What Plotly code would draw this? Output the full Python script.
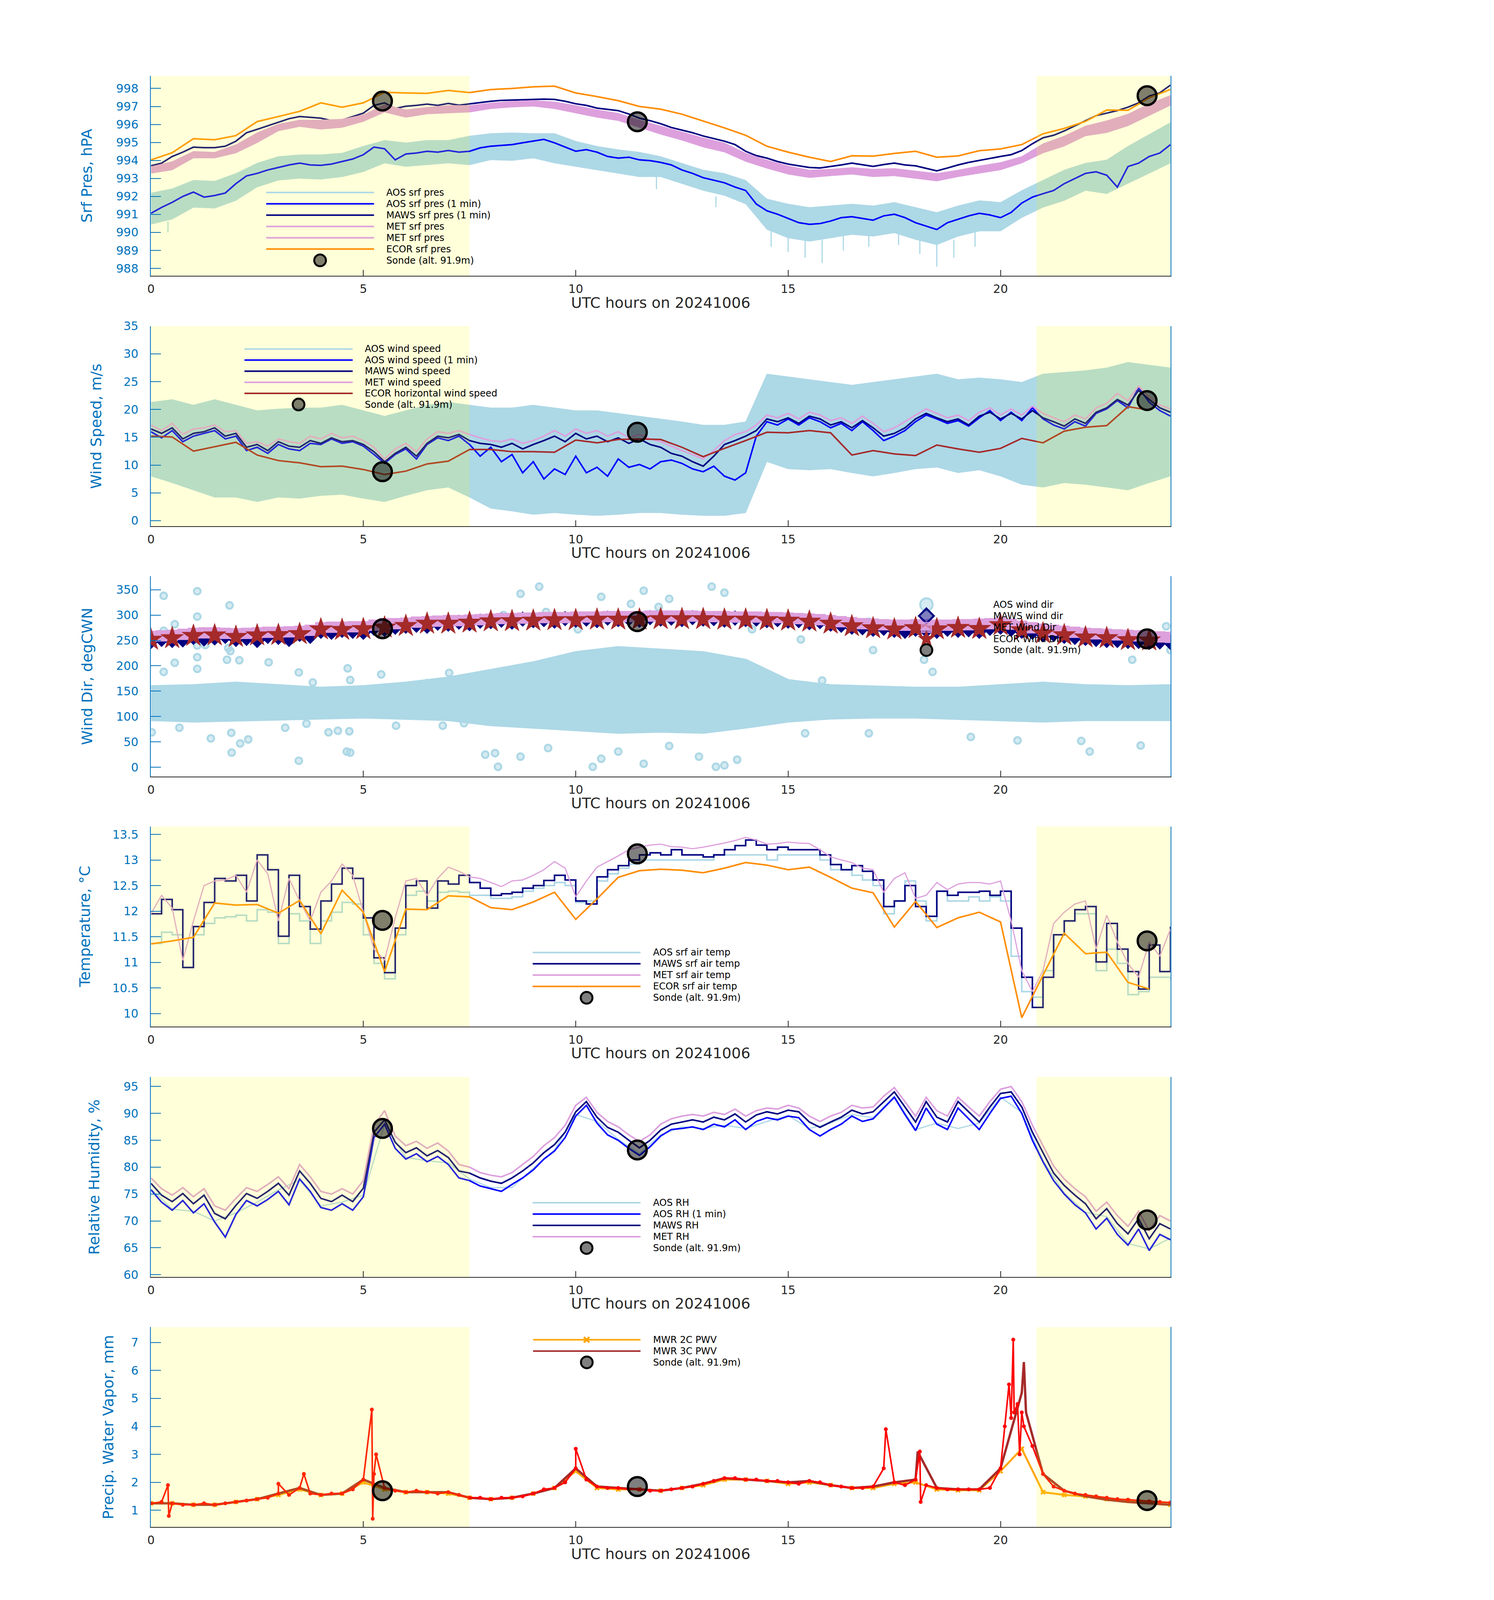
import math
import plotly.graph_objects as go

# ---------------- reference geometry (pixels of the 3825 x 7125 reference) ----------------
RW, RH = 3825, 7125
PL_X0, PL_X1 = 371, 2999
PANEL_TOP0 = 296
PANEL_H = 901
PERIOD = 1127
FONT = "DejaVu Sans"
AXBLUE = "#0072BD"
DARK = "#262626"
TICK_FS, LEG_FS, TITLE_FS = 30, 24, 38

def fx(px):
    return px / RW

def fy(py):
    return 1 - py / RH

# ---------------- time grids ----------------
t_q = [i * 0.25 for i in range(97)]
t_h = [i * 0.5 for i in range(49)]
t_h48 = t_h[:48]
t_hr = [float(i) for i in range(25)]

night_spans = [(0.0, 7.5), (20.85, 24.0)]
sonde_t = [5.45, 11.45, 23.45]

# ---------------- panel 1: pressure ----------------
aos_p_hi = [992.19, 992.43, 992.90, 992.85, 993.28, 993.85, 994.22, 994.32, 994.32, 994.41,
            994.79, 995.12, 994.98, 995.12, 995.12, 995.36, 995.50, 995.54, 995.50, 995.50,
            995.07, 994.79, 994.60, 994.46, 994.22, 993.85, 993.47, 993.28, 992.90, 991.86,
            991.58, 991.39, 991.48, 991.58, 991.48, 991.67, 991.39, 991.11, 991.48, 991.77,
            991.67, 992.33, 992.90, 993.47, 993.85, 994.03, 994.79, 995.45, 996.11]
aos_p_lo = [990.45, 990.73, 991.39, 991.34, 991.77, 992.52, 992.90, 993.00, 992.95, 993.09,
            993.37, 993.85, 993.66, 993.75, 993.85, 993.75, 994.03, 993.99, 994.13, 993.85,
            993.66, 993.47, 993.28, 993.09, 993.09, 992.71, 992.33, 992.05, 991.58, 990.16,
            989.69, 989.50, 989.69, 989.88, 989.78, 989.97, 989.60, 989.31, 989.78, 990.07,
            990.07, 990.82, 991.39, 991.77, 992.33, 992.15, 992.71, 993.28, 993.85]
aos_p_spk_t = [0.4, 11.9, 13.3, 14.6, 15.0, 15.4, 15.8, 16.3, 16.9, 17.6, 18.1, 18.5, 18.9, 19.4]
aos_p_spk_top = [990.6, 993.2, 992.0, 990.2, 989.8, 989.6, 989.6, 989.8, 989.8, 990.0, 989.6, 989.4, 989.6, 990.0]
aos_p_spk_bot = [990.0, 992.4, 991.4, 989.2, 988.9, 988.6, 988.3, 989.0, 989.2, 989.3, 988.8, 988.1, 988.6, 989.2]
aos_p_1min = [991.06, 991.39, 991.67, 992.00, 992.24, 991.96, 992.05, 992.19, 992.71, 993.14,
              993.28, 993.47, 993.61, 993.75, 993.85, 993.75, 993.73, 993.80, 993.94, 994.08,
              994.32, 994.74, 994.65, 994.03, 994.36, 994.41, 994.51, 994.46, 994.55, 994.46,
              994.51, 994.70, 994.79, 994.84, 994.88, 994.98, 995.07, 995.17, 994.98, 994.74,
              994.51, 994.60, 994.46, 994.22, 994.13, 994.18, 994.03, 993.99, 993.89, 993.75,
              993.47, 993.28, 993.04, 992.90, 992.76, 992.52, 992.33, 991.58, 991.20, 991.01,
              990.78, 990.54, 990.45, 990.49, 990.63, 990.82, 990.87, 990.78, 990.68, 990.92,
              991.01, 990.82, 990.54, 990.35, 990.16, 990.54, 990.73, 990.92, 991.06, 990.97,
              990.82, 991.11, 991.63, 991.96, 992.15, 992.33, 992.71, 992.99, 993.28, 993.37,
              993.18, 992.52, 993.66, 993.85, 994.22, 994.41, 994.88]
maws_p = [993.70, 993.85, 994.22, 994.46, 994.74, 994.71, 994.71, 994.79, 995.07, 995.54,
          995.73, 995.92, 996.11, 996.32, 996.44, 996.39, 996.35, 996.21, 996.25, 996.44,
          996.63, 997.06, 997.20, 996.89, 997.01, 997.06, 997.13, 997.06, 997.17, 997.07,
          997.15, 997.23, 997.29, 997.34, 997.36, 997.39, 997.41, 997.41, 997.39, 997.29,
          997.15, 997.06, 996.91, 996.85, 996.77, 996.58, 996.35, 996.21, 996.04, 995.83,
          995.69, 995.54, 995.36, 995.21, 995.07, 994.88, 994.51, 994.27, 994.13, 993.94,
          993.80, 993.70, 993.61, 993.58, 993.66, 993.75, 993.85, 993.75, 993.67, 993.77,
          993.85, 993.75, 993.70, 993.56, 993.42, 993.58, 993.75, 993.89, 993.99, 994.11,
          994.22, 994.32, 994.55, 994.93, 995.26, 995.40, 995.64, 995.92, 996.21, 996.49,
          996.63, 996.77, 996.96, 997.20, 997.58, 997.76, 998.19]
met_p_hi = [993.66, 993.94, 994.51, 994.46, 994.88, 995.54, 996.02, 996.25, 996.25, 996.30,
            996.54, 997.10, 996.82, 996.96, 997.06, 997.06, 997.20, 997.29, 997.34, 997.26,
            997.06, 996.82, 996.63, 996.25, 995.92, 995.59, 995.26, 994.98, 994.41, 994.03,
            993.70, 993.47, 993.52, 993.61, 993.52, 993.56, 993.42, 993.28, 993.47, 993.70,
            993.89, 994.22, 994.93, 995.36, 995.92, 996.21, 996.58, 997.15, 997.62]
met_p_lo = [993.28, 993.47, 994.13, 994.13, 994.41, 994.98, 995.64, 995.88, 995.73, 995.83,
            996.16, 996.68, 996.39, 996.58, 996.63, 996.68, 996.87, 996.96, 997.01, 996.87,
            996.63, 996.39, 996.21, 995.83, 995.45, 995.12, 994.74, 994.46, 993.94, 993.56,
            993.23, 993.04, 993.14, 993.23, 993.09, 993.14, 993.00, 992.85, 993.09, 993.28,
            993.47, 993.85, 994.41, 994.79, 995.36, 995.54, 995.92, 996.49, 997.06]
ecor_p = [994.03, 994.43, 995.21, 995.15, 995.38, 996.16, 996.44, 996.73, 997.20, 996.96,
          997.20, 997.79, 997.75, 997.73, 997.89, 997.77, 997.94, 998.00, 998.09, 998.13,
          997.75, 997.55, 997.32, 997.00, 996.85, 996.57, 996.19, 995.81, 995.40, 994.79,
          994.46, 994.18, 993.94, 994.26, 994.24, 994.39, 994.51, 994.18, 994.25, 994.54,
          994.64, 994.88, 995.48, 995.78, 996.17, 996.80, 996.79, 997.48, 997.95]
sonde_p = [997.3, 996.15, 997.6]

# ---------------- panel 2: wind speed ----------------
aos_ws_hi = [21.3, 21.8, 20.8, 21.8, 20.8, 19.8, 20.1, 20.3, 20.3, 20.8,
             19.8, 18.8, 19.8, 20.8, 21.3, 20.8, 20.3, 20.3, 20.8, 20.3,
             19.8, 19.8, 19.3, 18.8, 18.3, 17.8, 17.2, 17.2, 17.8, 26.4,
             25.9, 25.4, 24.9, 24.4, 24.9, 25.4, 25.9, 26.4, 25.4, 25.7,
             25.4, 24.9, 26.4, 26.7, 27.0, 27.5, 28.5, 28.0, 27.5]
aos_ws_lo = [8.0, 6.8, 5.5, 4.2, 4.2, 3.4, 4.2, 4.0, 4.5, 4.7,
             4.0, 3.4, 4.5, 5.5, 6.0, 4.2, 2.2, 1.7, 1.1, 1.4,
             1.1, 0.9, 1.1, 1.4, 1.4, 1.1, 0.9, 0.9, 1.4, 10.6,
             9.3, 9.1, 9.3, 8.6, 8.0, 8.6, 9.3, 9.6, 8.6, 9.1,
             8.0, 6.5, 6.0, 6.8, 6.5, 6.0, 5.5, 6.8, 8.0]
aos_ws_1min = [16.0, 14.9, 16.2, 14.2, 15.2, 15.7, 16.2, 14.7, 15.2, 12.6,
               13.2, 12.1, 13.7, 12.9, 12.6, 13.9, 13.7, 14.7, 13.9, 14.2,
               13.4, 11.9, 10.3, 11.9, 12.9, 11.1, 13.7, 14.9, 14.4, 15.2,
               13.7, 11.6, 13.2, 10.6, 11.9, 8.6, 10.6, 7.5, 9.3, 8.3,
               11.6, 8.6, 9.6, 8.0, 11.1, 9.6, 10.1, 9.3, 10.6, 10.9,
               10.3, 9.3, 8.8, 9.8, 8.0, 7.3, 8.6, 15.2, 17.8, 17.2,
               18.3, 17.2, 18.5, 17.8, 16.7, 17.5, 16.2, 17.8, 16.2, 14.4,
               15.2, 16.2, 17.8, 19.0, 18.3, 17.5, 18.0, 17.0, 18.5, 19.8,
               18.0, 19.5, 18.0, 20.3, 18.3, 17.2, 16.5, 17.8, 17.0, 19.3,
               20.1, 21.6, 20.3, 23.9, 21.3, 19.8, 18.8]
maws_ws = [16.5, 15.7, 16.7, 14.7, 15.7, 16.0, 16.7, 15.2, 15.7, 13.2,
           13.7, 12.6, 14.2, 13.4, 13.2, 14.4, 13.9, 14.9, 14.2, 14.4,
           13.7, 12.4, 10.6, 12.1, 13.2, 11.6, 13.9, 15.2, 14.9, 15.5,
           14.4, 13.9, 13.7, 13.2, 13.9, 12.9, 13.7, 14.4, 15.2, 14.2,
           15.7, 14.7, 15.2, 14.2, 14.9, 13.9, 14.7, 13.7, 13.2, 12.1,
           11.6, 10.6, 9.8, 11.6, 13.7, 14.4, 15.2, 16.2, 18.3, 17.8,
           18.5, 17.5, 18.8, 18.3, 17.2, 17.8, 16.7, 18.0, 16.7, 15.2,
           15.7, 16.7, 18.3, 19.3, 18.5, 17.8, 18.3, 17.2, 18.8, 19.5,
           18.3, 19.3, 18.3, 19.8, 18.5, 17.8, 17.0, 18.3, 17.5, 19.5,
           20.3, 21.8, 20.8, 23.4, 21.8, 20.3, 19.5]
met_ws = [17.2, 16.2, 17.5, 15.5, 16.5, 16.7, 17.2, 16.0, 16.2, 13.9,
          14.2, 13.4, 14.7, 14.2, 13.9, 15.2, 14.7, 15.7, 14.9, 15.2,
          14.4, 13.2, 11.1, 12.9, 13.9, 12.4, 14.7, 16.0, 15.7, 16.2,
          15.5, 14.9, 14.4, 14.2, 14.7, 13.9, 14.4, 15.2, 16.2, 15.2,
          16.5, 15.7, 16.2, 15.2, 16.0, 14.9, 15.5, 14.7, 14.2, 13.4,
          12.6, 11.9, 11.1, 12.6, 14.4, 15.5, 16.0, 17.2, 19.0, 18.5,
          19.3, 18.3, 19.5, 19.0, 18.0, 18.5, 17.5, 18.8, 17.5, 16.0,
          16.7, 17.8, 19.0, 20.1, 19.3, 18.5, 19.0, 18.0, 19.5, 20.3,
          19.0, 20.1, 19.0, 20.6, 19.3, 18.5, 17.8, 19.0, 18.3, 20.3,
          21.1, 22.9, 21.6, 24.2, 22.3, 20.8, 20.1]
ecor_ws = [15.2, 15.05, 12.5, 13.3, 14.1, 11.8, 10.8, 10.4, 9.7, 9.8,
           9.2, 8.3, 8.9, 10.2, 10.7, 12.8, 12.8, 12.4, 12.4, 12.3,
           14.5, 14.0, 14.6, 14.7, 14.6, 13.2, 11.5, 13.0, 14.4, 15.9,
           15.8, 16.2, 15.8, 11.8, 12.6, 12.0, 11.7, 13.6, 12.9, 12.3,
           13.0, 14.8, 14.0, 16.1, 16.8, 17.1, 20.5, 19.9]
sonde_ws = [8.8, 15.9, 21.6]

# ---------------- panel 3: wind direction ----------------
aos_wd_hi = [158, 160, 165, 160, 155, 158, 165, 175, 190, 205, 225, 235, 230,
             225, 210, 170, 160, 158, 155, 155, 160, 165, 160, 158, 160]
aos_wd_lo = [95, 92, 95, 96, 98, 100, 98, 95, 85, 80, 75, 70, 72,
             70, 80, 92, 98, 100, 100, 98, 95, 92, 95, 95, 95]
aos_wd_out_t = [0.30, 1.09, 1.85, 1.09, 0.56, 0.30, 1.09, 1.28, 1.82, 1.87,
                1.09, 1.79, 0.56, 2.77, 2.08, 1.09, 0.30, 3.48, 4.63, 5.42,
                7.02, 3.81, 4.69, 6.50, 0.02, 1.41, 1.89, 2.10, 2.29, 1.90,
                3.48, 4.18, 4.40, 4.67, 4.61, 4.69, 5.77, 6.87, 7.37, 0.67,
                3.16, 3.66, 7.87, 8.17, 8.70, 8.70, 9.14, 8.30, 9.30, 10.05,
                10.60, 11.20, 11.30, 11.60, 11.95, 12.20, 13.20, 13.50, 13.70, 14.15,
                15.30, 16.90, 17.00, 10.40, 10.60, 11.00, 11.60, 12.20, 12.90, 13.30,
                13.50, 13.80, 8.10, 9.35, 19.30, 20.40, 21.90, 22.10, 23.30, 23.10,
                16.90, 15.40, 15.80, 18.20, 18.40, 23.90, 24.00]
aos_wd_out_v = [338, 347, 319, 297, 282, 269, 240, 241, 235, 229,
                217, 212, 206, 207, 211, 194, 188, 187, 195, 183,
                186, 167, 172, 166, 69, 57, 68, 47, 55, 29,
                13, 69, 72, 71, 31, 29, 82, 82, 87, 78,
                78, 86, 25, 1, 21, 342, 356, 300, 306, 272,
                336, 292, 322, 348, 316, 332, 356, 344, 296, 272,
                252, 287, 231, 1, 17, 31, 7, 42, 21, 1,
                4, 15, 28, 38, 60, 53, 52, 31, 43, 212,
                67, 67, 171, 212, 188, 278, 231]
maws_wd = [248, 252, 250, 251, 256, 253, 255, 258, 252,
           254, 250, 258, 256, 252, 262, 258, 268,
           266, 270, 268, 266, 274, 272, 276, 278,
           280, 278, 284, 282, 286, 283, 288, 287,
           290, 286, 292, 289, 291, 288, 293, 290,
           292, 289, 294, 291, 293, 290, 295, 292,
           294, 291, 295, 292, 293, 290, 294, 291,
           292, 289, 291, 288, 289, 285, 287, 282,
           280, 276, 275, 272, 274, 270, 268, 272,
           270, 268, 272, 270, 271, 268, 274, 276,
           272, 268, 266, 262, 262, 258, 256, 254,
           252, 250, 250, 248, 248, 246, 247, 246]
met_wd = [258, 259, 260, 262, 264, 265, 265, 264, 263,
          264, 265, 266, 266, 267, 268, 270, 275,
          276, 276, 277, 277, 280, 283, 283, 284,
          286, 287, 288, 289, 289, 290, 291, 292,
          293, 293, 294, 294, 295, 295, 295, 296,
          296, 296, 297, 297, 297, 297, 298, 298,
          298, 298, 298, 297, 297, 297, 296, 296,
          296, 295, 295, 294, 293, 292, 291, 289,
          287, 285, 283, 282, 281, 280, 280, 281,
          281, 280, 280, 281, 281, 282, 283, 284,
          282, 278, 275, 272, 270, 268, 266, 264,
          263, 262, 261, 260, 259, 258, 257, 256]
ecor_wd = [251.5, 254.5, 259, 260, 257, 260, 260.7, 262.5, 271.7, 270.8,
           272.3, 275.4, 278.5, 283, 283, 285, 287.7, 288, 289, 290,
           290, 291, 291, 291, 292, 292, 292, 291, 291, 290,
           289, 287, 283, 278, 274, 271.6, 274.3, 272, 274.7, 272.6,
           280, 270, 263.8, 260.3, 256, 254.6, 250.7, 250]
sonde_wd = [273, 287, 253]

# ---------------- panel 4: temperature ----------------
aos_T = [11.37, 11.59, 11.54, 10.90, 11.54, 11.76, 11.87, 11.89, 11.92, 11.81,
         12.03, 11.98, 11.37, 11.95, 11.81, 11.37, 11.81, 11.98, 12.17, 12.14,
         11.54, 10.98, 10.68, 11.54, 12.31, 12.39, 12.20, 12.37, 12.39, 12.37,
         12.31, 12.31, 12.25, 12.25, 12.28, 12.39, 12.45, 12.50, 12.56, 12.50,
         12.17, 12.20, 12.59, 12.73, 12.84, 12.92, 13.00, 13.00, 13.00, 13.00,
         13.00, 13.00, 13.00, 13.10, 13.10, 13.10, 13.10, 13.10, 13.00, 13.10,
         13.10, 13.10, 13.10, 13.00, 12.81, 12.81, 12.70, 12.61, 12.50, 11.95,
         12.20, 12.59, 12.20, 11.81, 12.39, 12.20, 12.20, 12.28, 12.20, 12.28,
         12.20, 11.12, 10.43, 10.32, 10.84, 11.54, 11.81, 11.95, 11.95, 10.84,
         11.26, 10.98, 10.37, 10.43, 10.71, 10.71, 10.65]
maws_T = [11.95, 12.23, 12.03, 10.90, 11.70, 12.17, 12.64, 12.59, 12.70, 12.20,
          13.10, 12.81, 11.51, 12.70, 12.09, 11.65, 12.20, 12.53, 12.84, 12.64,
          11.87, 11.09, 10.80, 11.67, 12.50, 12.59, 12.06, 12.59, 12.53, 12.70,
          12.56, 12.45, 12.31, 12.34, 12.37, 12.45, 12.50, 12.60, 12.70, 12.61,
          12.20, 12.14, 12.67, 12.81, 12.89, 13.00, 13.10, 13.14, 13.10, 13.20,
          13.10, 13.10, 13.06, 13.10, 13.20, 13.28, 13.39, 13.29, 13.20, 13.25,
          13.20, 13.20, 13.20, 13.10, 12.91, 12.81, 12.89, 12.78, 12.61, 12.09,
          12.20, 12.50, 12.09, 11.90, 12.39, 12.31, 12.37, 12.37, 12.39, 12.31,
          12.39, 11.67, 10.71, 10.12, 10.71, 11.54, 11.81, 12.03, 12.09, 11.01,
          11.76, 11.26, 10.82, 10.48, 11.34, 10.82, 11.70]
met_T = [11.95, 12.31, 12.06, 11.04, 11.81, 12.50, 12.59, 12.61, 12.70, 12.37,
         13.00, 12.73, 11.81, 12.64, 12.20, 11.81, 12.37, 12.59, 12.92, 12.70,
         11.98, 11.26, 11.04, 11.87, 12.59, 12.64, 12.31, 12.64, 12.86, 12.78,
         12.67, 12.64, 12.56, 12.48, 12.59, 12.61, 12.70, 12.81, 12.97, 12.84,
         12.28, 12.59, 12.86, 12.97, 13.08, 13.20, 13.25, 13.29, 13.31, 13.26,
         13.25, 13.22, 13.25, 13.29, 13.33, 13.38, 13.44, 13.39, 13.31, 13.32,
         13.35, 13.33, 13.32, 13.20, 13.06, 13.00, 12.95, 12.84, 12.81, 12.37,
         12.64, 12.75, 12.25, 12.31, 12.56, 12.42, 12.53, 12.56, 12.56, 12.53,
         12.59, 11.81, 10.84, 10.43, 10.84, 11.76, 11.98, 12.14, 12.20, 11.26,
         11.92, 11.40, 10.98, 10.71, 11.40, 11.12, 11.65]
ecor_T = [11.36, 11.42, 11.49, 12.16, 12.12, 12.13, 11.96, 12.21, 11.56, 12.41,
          11.98, 10.82, 12.04, 12.03, 12.30, 12.28, 12.07, 12.03, 12.18, 12.37,
          11.84, 12.24, 12.66, 12.79, 12.82, 12.80, 12.75, 12.84, 12.95, 12.90,
          12.81, 12.86, 12.66, 12.45, 12.36, 11.69, 12.19, 11.68, 11.87, 11.98,
          11.79, 9.92, 10.75, 11.57, 11.17, 11.20, 10.61, 10.48]
sonde_T = [11.82, 13.12, 11.42]

# ---------------- panel 5: relative humidity ----------------
aos_rh = [76.0, 72.2, 71.8, 70.0, 71.5, 73.5, 75.8, 77.6, 72.8, 73.5,
          74.8, 88.0, 81.8, 81.2, 80.8, 77.8, 76.2, 76.2, 79.8, 83.2,
          89.8, 88.5, 85.2, 82.5, 86.0, 87.5, 87.2, 87.8, 87.2, 88.5,
          89.6, 87.2, 88.2, 89.8, 89.2, 93.2, 87.0, 88.2, 87.2, 88.2,
          93.0, 90.2, 81.2, 75.2, 71.6, 70.8, 65.8, 64.8, 66.8]
aos_rh_1min = [75.8, 73.5, 72.0, 73.8, 71.5, 73.2, 69.8, 67.0, 71.2, 73.8,
               72.8, 74.0, 75.5, 73.0, 77.8, 75.5, 72.5, 72.0, 73.2, 72.0,
               74.5, 85.5, 88.0, 83.5, 81.5, 82.5, 81.0, 82.0, 80.5, 78.0,
               77.5, 76.5, 76.0, 75.5, 76.8, 78.0, 79.5, 81.5, 83.0, 85.5,
               89.5, 91.5, 88.2, 86.0, 85.0, 83.5, 82.2, 83.8, 85.8, 87.0,
               87.2, 87.5, 87.0, 88.0, 87.5, 88.8, 87.0, 88.5, 89.2, 88.8,
               89.5, 89.2, 87.0, 85.8, 87.0, 88.0, 89.5, 88.5, 89.0, 91.0,
               93.0, 89.8, 86.8, 91.0, 88.0, 87.0, 91.0, 89.0, 87.0, 90.0,
               92.8, 93.2, 90.0, 85.0, 81.0, 77.5, 75.0, 73.0, 71.5, 68.5,
               70.5, 67.5, 65.5, 68.5, 64.5, 67.5, 66.5]
maws_rh = [77.0, 74.8, 73.6, 75.1, 73.2, 74.8, 71.4, 70.4, 72.9, 75.1,
           74.2, 75.5, 77.0, 74.8, 79.3, 77.0, 74.2, 73.6, 74.8, 73.6,
           76.1, 86.5, 88.8, 84.6, 82.7, 83.6, 82.1, 83.1, 81.8, 79.3,
           78.9, 78.0, 77.4, 77.0, 78.0, 79.3, 80.8, 82.7, 84.2, 86.5,
           90.3, 92.2, 89.3, 87.4, 86.5, 85.0, 83.6, 85.0, 86.9, 88.0,
           88.4, 88.8, 88.4, 89.3, 88.8, 89.9, 88.4, 89.7, 90.3, 89.9,
           90.6, 90.3, 88.4, 87.4, 88.4, 89.3, 90.6, 89.9, 90.3, 92.2,
           94.0, 91.2, 88.4, 92.2, 89.3, 88.4, 92.2, 90.3, 88.4, 91.2,
           93.7, 94.0, 91.2, 86.5, 82.7, 78.9, 76.6, 74.8, 73.2, 70.4,
           72.3, 69.5, 67.6, 70.4, 66.7, 69.5, 68.5]
met_rh = [78.0, 76.0, 74.8, 76.2, 74.5, 76.0, 72.8, 72.0, 74.2, 76.2,
          75.5, 76.8, 78.2, 76.0, 80.5, 78.2, 75.5, 75.0, 76.0, 75.0,
          77.5, 87.8, 90.5, 85.8, 84.0, 84.8, 83.5, 84.5, 83.0, 80.5,
          80.0, 79.0, 78.5, 78.2, 79.0, 80.5, 82.0, 84.0, 85.5, 87.8,
          91.5, 93.0, 90.2, 88.5, 87.5, 86.0, 84.8, 86.0, 88.0, 89.0,
          89.5, 89.8, 89.5, 90.2, 89.8, 90.8, 89.5, 90.5, 91.0, 90.8,
          91.5, 91.0, 89.5, 88.5, 89.5, 90.2, 91.5, 91.0, 91.2, 93.2,
          94.8, 92.2, 89.5, 93.0, 90.5, 89.5, 93.0, 91.2, 89.5, 92.2,
          94.5, 95.0, 92.2, 87.8, 84.0, 80.2, 77.8, 76.0, 74.5, 71.8,
          73.5, 71.0, 69.0, 71.8, 68.2, 71.0, 70.0]
sonde_rh = [87.2, 83.2, 70.2]

# ---------------- panel 6: precipitable water vapor ----------------
pwv_2c = [1.25, 1.25, 1.2, 1.2, 1.3, 1.4, 1.55, 1.75, 1.55, 1.6,
          2.0, 1.75, 1.65, 1.65, 1.6, 1.45, 1.4, 1.45, 1.6, 1.8,
          2.4, 1.8, 1.75, 1.75, 1.7, 1.8, 1.9, 2.1, 2.1, 2.05,
          1.95, 2.0, 1.9, 1.8, 1.8, 1.95, 2.0, 1.75, 1.72, 1.72,
          2.4, 3.2, 1.65, 1.55, 1.5, 1.4, 1.35, 1.3, 1.2]
pwv_3c = [1.25, 1.25, 1.2, 1.2, 1.3, 1.4, 1.6, 1.8, 1.55, 1.6,
          2.1, 1.8, 1.65, 1.65, 1.65, 1.45, 1.4, 1.45, 1.6, 1.8,
          2.5, 1.85, 1.8, 1.75, 1.7, 1.8, 1.95, 2.15, 2.1, 2.05,
          2.0, 2.05, 1.9, 1.8, 1.85, 2.0, 2.1, 1.8, 1.75, 1.75,
          2.5, 5.2, 2.3, 1.7, 1.5, 1.38, 1.3, 1.25, 1.2]
pwv_3c_spk_t = [18.05, 20.55, 20.6]
pwv_3c_spk_v = [3.1, 6.3, 4.5]
pwv_red = [1.25, 1.3, 1.25, 1.2, 1.2, 1.25, 1.2, 1.25, 1.3,
           1.35, 1.4, 1.45, 1.6, 1.55, 1.8, 1.6, 1.55,
           1.6, 1.6, 1.75, 2.1, 2.3, 1.8, 1.7, 1.65,
           1.7, 1.65, 1.6, 1.65, 1.55, 1.45, 1.45, 1.4,
           1.45, 1.45, 1.5, 1.6, 1.75, 1.8, 2.0, 2.5,
           2.1, 1.85, 1.8, 1.8, 1.75, 1.75, 1.7, 1.7,
           1.75, 1.8, 1.85, 1.95, 2.05, 2.15, 2.15, 2.1,
           2.1, 2.05, 2.05, 2.0, 1.95, 2.05, 2.0, 1.9,
           1.85, 1.8, 1.8, 1.85, 2.5, 2.0, 1.9, 2.1,
           1.9, 1.8, 1.75, 1.75, 1.75, 1.75, 1.8, 2.5,
           4.3, 4.5, 3.3, 2.3, 1.85, 1.7, 1.6, 1.55,
           1.5, 1.45, 1.4, 1.38, 1.35, 1.32, 1.3, 1.28]
pwv_red_spk_t = [0.4, 0.42, 3.0, 3.6, 5.2, 5.22, 5.3, 10.0, 17.3, 18.1, 18.12,
                 20.1, 20.2, 20.3, 20.32, 20.4, 20.45, 20.55]
pwv_red_spk_v = [1.9, 0.8, 1.95, 2.3, 4.6, 0.7, 3.0, 3.2, 3.9, 3.1, 1.3,
                 4.0, 5.5, 7.1, 4.5, 4.8, 3.0, 4.0]
sonde_pwv = [1.7, 1.85, 1.35]

# ---------------- axes setup ----------------
y_ranges = [[987.58, 998.7], [-1.0, 35.0], [-17.9, 376.25], [9.745, 13.652], [59.6, 96.8], [0.4, 7.55]]
y_ticks = [list(range(988, 999)), list(range(0, 36, 5)), list(range(0, 351, 50)),
           [10, 10.5, 11, 11.5, 12, 12.5, 13, 13.5], list(range(60, 96, 5)), list(range(1, 8))]
y_titles = ["Srf Pres, hPA", "Wind Speed, m/s", "Wind Dir, degCWN",
            "Temperature, °C", "Relative Humidity, %", "Precip. Water Vapor, mm"]
y_title_x = [206, 229, 206, 201, 224, 261]
x_ticks = [0, 5, 10, 15, 20]

fig = go.Figure()
shapes = []
annotations = []


def ax(i):
    return ("x" if i == 0 else f"x{i+1}"), ("y" if i == 0 else f"y{i+1}")


def add(i, **kw):
    xa, ya = ax(i)
    kw.setdefault("hoverinfo", "skip")
    kw.setdefault("showlegend", False)
    fig.add_trace(go.Scatter(xaxis=xa, yaxis=ya, **kw))


def band(i, t, hi, lo, color, lw=1):
    add(i, x=list(t) + list(t)[::-1], y=list(hi) + list(lo)[::-1], mode="lines",
        fill="toself", fillcolor=color, line=dict(color=color, width=lw))


def spikes(i, t, top, bot, color, lw=2):
    xs, ys = [], []
    for a, b, c in zip(t, top, bot):
        xs += [a, a, None]
        ys += [b, c, None]
    add(i, x=xs, y=ys, mode="lines", line=dict(color=color, width=lw))


def night(i):
    lo, hi = y_ranges[i]
    for a, b in night_spans:
        add(i, x=[a, b, b, a, a], y=[lo, lo, hi, hi, lo], mode="lines", fill="toself",
            fillcolor="rgba(255,255,0,0.15)", line=dict(width=0))


def sonde(i, vals):
    add(i, x=sonde_t, y=vals, mode="markers",
        marker=dict(size=48, color="rgba(0,0,0,0.5)", line=dict(color="black", width=6)))


def merged(t1, v1, t2, v2):
    pts = sorted(zip(list(t1) + list(t2), list(v1) + list(v2)), key=lambda p: p[0])
    return [p[0] for p in pts], [p[1] for p in pts]


LB, BL, NV, PLUM, OR, BR = "#ADD8E6", "#0000FF", "#000080", "#DDA0DD", "#FF8C00", "#A52A2A"

# Panel 1
band(0, t_h, aos_p_hi, aos_p_lo, LB)
spikes(0, aos_p_spk_t, aos_p_spk_top, aos_p_spk_bot, LB, 3)
add(0, x=t_q, y=aos_p_1min, mode="lines", line=dict(color=BL, width=4))
add(0, x=t_q, y=maws_p, mode="lines", line=dict(color=NV, width=4))
band(0, t_h, met_p_hi, met_p_lo, PLUM)
add(0, x=t_h, y=ecor_p, mode="lines", line=dict(color=OR, width=4))
night(0)
sonde(0, sonde_p)

# Panel 2
band(1, t_h, aos_ws_hi, aos_ws_lo, LB)
add(1, x=t_q, y=aos_ws_1min, mode="lines", line=dict(color=BL, width=4))
add(1, x=t_q, y=maws_ws, mode="lines", line=dict(color=NV, width=4))
add(1, x=t_q, y=met_ws, mode="lines", line=dict(color=PLUM, width=4))
add(1, x=t_h48, y=ecor_ws, mode="lines", line=dict(color=BR, width=4))
night(1)
sonde(1, sonde_ws)

# Panel 3
band(2, t_hr, aos_wd_hi, aos_wd_lo, LB, lw=10)
add(2, x=aos_wd_out_t, y=aos_wd_out_v, mode="markers",
    marker=dict(symbol="circle", size=17, color="rgba(173,216,230,0.5)", line=dict(color=LB, width=5)))
add(2, x=t_q, y=maws_wd, mode="markers",
    marker=dict(symbol="diamond", size=28, color=NV, line=dict(color=NV, width=2)))
add(2, x=t_q, y=met_wd, mode="markers",
    marker=dict(symbol="square", size=28, color=PLUM, line=dict(color=PLUM, width=1)))
add(2, x=t_h48, y=ecor_wd, mode="markers",
    marker=dict(symbol="star", size=44, color=BR, line=dict(color=BR, width=1)))
sonde(2, sonde_wd)

# Panel 4
add(3, x=t_q, y=aos_T, mode="lines", line=dict(color=LB, width=4, shape="hv"))
add(3, x=t_q, y=maws_T, mode="lines", line=dict(color=NV, width=4, shape="hv"))
add(3, x=t_q, y=met_T, mode="lines", line=dict(color=PLUM, width=3))
add(3, x=t_h48, y=ecor_T, mode="lines", line=dict(color=OR, width=4))
night(3)
sonde(3, sonde_T)

# Panel 5
add(4, x=t_h, y=aos_rh, mode="lines", line=dict(color=LB, width=3))
add(4, x=t_q, y=aos_rh_1min, mode="lines", line=dict(color=BL, width=4))
add(4, x=t_q, y=maws_rh, mode="lines", line=dict(color=NV, width=4))
add(4, x=t_q, y=met_rh, mode="lines", line=dict(color=PLUM, width=4))
night(4)
sonde(4, sonde_rh)

# Panel 6
add(5, x=t_h, y=pwv_2c, mode="lines+markers", line=dict(color="#FFA500", width=5),
    marker=dict(symbol="x", size=12, color="#FFA500"))
x3, y3 = merged(t_h, pwv_3c, pwv_3c_spk_t, pwv_3c_spk_v)
add(5, x=x3, y=y3, mode="lines", line=dict(color=BR, width=6))
xr, yr = merged(t_q, pwv_red, pwv_red_spk_t, pwv_red_spk_v)
add(5, x=xr, y=yr, mode="lines+markers", line=dict(color="#FF0000", width=4),
    marker=dict(symbol="circle", size=10, color="#FF0000"))
night(5)
sonde(5, sonde_pwv)

# ---------------- layout (figure fills the page it is opened in) ----------------
layout = dict(autosize=True, margin=dict(l=0, r=0, t=0, b=0, pad=0),
              paper_bgcolor="white", plot_bgcolor="white", showlegend=False,
              font=dict(family=FONT, size=TICK_FS, color=DARK))
for i in range(6):
    top = PANEL_TOP0 + i * PERIOD
    bot = top + PANEL_H
    dom = [fy(bot), fy(top)]
    xa, ya = ax(i)
    xkey = "xaxis" if i == 0 else f"xaxis{i+1}"
    ykey = "yaxis" if i == 0 else f"yaxis{i+1}"
    layout[xkey] = dict(domain=[fx(PL_X0), fx(PL_X1)], range=[0, 24], anchor=ya, tickvals=x_ticks,
                        ticks="inside", ticklen=15, tickwidth=2, tickcolor=DARK,
                        showline=True, linecolor=DARK, linewidth=2, showgrid=False, zeroline=False,
                        tickfont=dict(family=FONT, size=TICK_FS, color=DARK), ticklabelstandoff=6)
    layout[ykey] = dict(domain=dom, range=y_ranges[i], anchor=xa, tickvals=y_ticks[i],
                        ticks="inside", ticklen=26, tickwidth=2, tickcolor=AXBLUE,
                        showline=True, linecolor=AXBLUE, linewidth=2, mirror=True,
                        showgrid=False, zeroline=False,
                        tickfont=dict(family=FONT, size=TICK_FS, color=AXBLUE), ticklabelstandoff=24)
    annotations.append(dict(xref="paper", yref="paper", x=fx(y_title_x[i]), y=(dom[0] + dom[1]) / 2,
                            text=y_titles[i], textangle=-90, showarrow=False,
                            xanchor="center", yanchor="middle",
                            font=dict(family=FONT, size=TITLE_FS, color=AXBLUE)))
    annotations.append(dict(xref="paper", yref="paper", x=fx((PL_X0 + PL_X1) / 2), y=fy(bot + 120),
                            text="UTC hours on 20241006", showarrow=False,
                            xanchor="center", yanchor="middle",
                            font=dict(family=FONT, size=TITLE_FS, color=DARK)))

# ---------------- custom legends ----------------

def leg_text(xpx, ypx, text):
    annotations.append(dict(xref="paper", yref="paper", x=fx(xpx), y=fy(ypx), text=text,
                            showarrow=False, xanchor="left", yanchor="middle",
                            font=dict(family=FONT, size=LEG_FS, color="black")))


def leg_line(x0, x1, ypx, color, width=4):
    shapes.append(dict(type="line", xref="paper", yref="paper", x0=fx(x0), x1=fx(x1),
                       y0=fy(ypx), y1=fy(ypx), line=dict(color=color, width=width), layer="above"))


def leg_shape(xc, yc, kind, fill, lcolor, lw, r=16, path=None):
    d = dict(xref="paper", yref="paper", xsizemode="pixel", ysizemode="pixel",
             xanchor=fx(xc), yanchor=fy(yc), fillcolor=fill,
             line=dict(color=lcolor, width=lw), layer="above")
    if kind == "circle":
        d.update(type="circle", x0=-r, x1=r, y0=-r, y1=r)
    else:
        d.update(type="path", path=path)
    shapes.append(d)


def sonde_leg(xc, yc):
    leg_shape(xc, yc, "circle", "rgba(0,0,0,0.5)", "black", 5, r=15)


def line_legend(entries, x0, x1, xt, rows):
    for (label, color), y in zip(entries, rows):
        if color is None:
            sonde_leg((x0 + x1) / 2, y)
        else:
            leg_line(x0, x1, y, color)
        leg_text(xt, y, label)


line_legend([("AOS srf pres", LB), ("AOS srf pres (1 min)", BL), ("MAWS srf pres (1 min)", NV),
             ("MET srf pres", PLUM), ("MET srf pres", PLUM), ("ECOR srf pres", OR),
             ("Sonde (alt. 91.9m)", None)],
            668, 946, 976, [821, 872, 923, 974, 1025, 1076, 1127])
line_legend([("AOS wind speed", LB), ("AOS wind speed (1 min)", BL), ("MAWS wind speed", NV),
             ("MET wind speed", PLUM), ("ECOR horizontal wind speed", BR), ("Sonde (alt. 91.9m)", None)],
            612, 891, 920, [1526, 1576, 1626, 1676, 1726, 1776])
line_legend([("AOS srf air temp", LB), ("MAWS srf air temp", NV), ("MET srf air temp", PLUM),
             ("ECOR srf air temp", OR), ("Sonde (alt. 91.9m)", None)],
            1355, 1633, 1663, [4244, 4295, 4346, 4397, 4448])
line_legend([("AOS RH", LB), ("AOS RH (1 min)", BL), ("MAWS RH", NV), ("MET RH", PLUM),
             ("Sonde (alt. 91.9m)", None)],
            1355, 1633, 1663, [5371, 5422, 5473, 5524, 5575])
line_legend([("MWR 2C PWV", "#FFA500"), ("MWR 3C PWV", BR), ("Sonde (alt. 91.9m)", None)],
            1356, 1633, 1663, [5988, 6039, 6090])
for (a, b, c, d) in [(-7, -7, 7, 7), (-7, 7, 7, -7)]:
    shapes.append(dict(type="line", xref="paper", yref="paper", xsizemode="pixel", ysizemode="pixel",
                       xanchor=fx(1494), yanchor=fy(5988), x0=a, y0=b, x1=c, y1=d,
                       line=dict(color="#FFA500", width=5), layer="above"))

mx, tx = 2370, 2540
rows3 = [2677, 2728, 2780, 2832, 2882]
leg_shape(mx, rows3[0], "circle", "rgba(173,216,230,0.5)", LB, 5, r=16)
leg_shape(mx, rows3[1], "path", "rgba(0,0,128,0.5)", NV, 5, path="M0,19 L19,0 L0,-19 L-19,0 Z")
leg_shape(mx, rows3[2], "path", "rgba(221,160,221,0.7)", PLUM, 2, path="M-13,-13 L13,-13 L13,13 L-13,13 Z")
star_pts = []
for k in range(10):
    ang = math.radians(90 + 36 * k)
    rr = 22 if k % 2 == 0 else 9
    star_pts.append(f"{rr * math.cos(ang):.1f},{rr * math.sin(ang):.1f}")
leg_shape(mx, rows3[3], "path", BR, BR, 1, path="M" + " L".join(star_pts) + " Z")
sonde_leg(mx, rows3[4])
for lab, y in zip(["AOS wind dir", "MAWS wind dir", "MET Wind Dir", "ECOR Wind Dir", "Sonde (alt. 91.9m)"], rows3):
    leg_text(tx, y, lab)

layout["shapes"] = shapes
layout["annotations"] = annotations
fig.update_layout(**layout)
fig.write_html("out.html")
